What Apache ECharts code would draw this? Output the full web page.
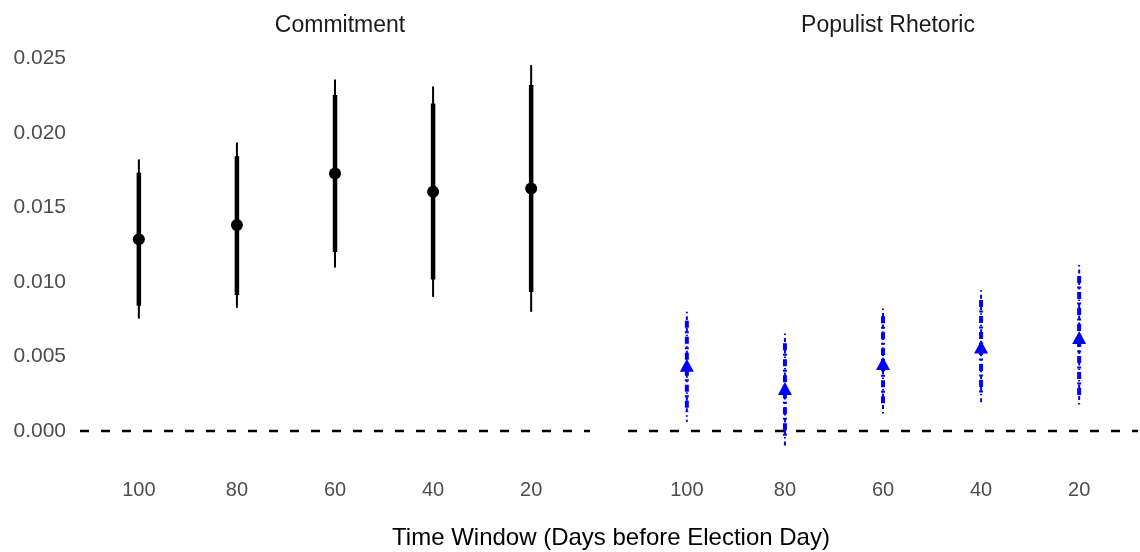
<!DOCTYPE html>
<html>
<head>
<meta charset="utf-8">
<script src="https://cdn.jsdelivr.net/npm/echarts@6/dist/echarts.min.js"></script>
<style>html,body{margin:0;padding:0;background:#fff}#c{width:1140px;height:552px}</style>
</head>
<body>
<div id="c"></div>
<script>
const categories = ['100', '80', '60', '40', '20'];
const panelTitles = ['Commitment', 'Populist Rhetoric'];
const yTicks = [0, 0.005, 0.010, 0.015, 0.020, 0.025];
const yTickLabels = ['0.000', '0.005', '0.010', '0.015', '0.020', '0.025'];

const commitEst  = [0.01287, 0.01381, 0.01727, 0.01604, 0.01626];
const commitLo95 = [0.00755, 0.00827, 0.01097, 0.00900, 0.00800];
const commitHi95 = [0.01821, 0.01935, 0.02357, 0.02310, 0.02453];
const commitLo90 = [0.00840, 0.00912, 0.01200, 0.01017, 0.00932];
const commitHi90 = [0.01731, 0.01843, 0.02252, 0.02196, 0.02319];

const popEst  = [0.00442, 0.00286, 0.00454, 0.00565, 0.00628];
const popLo95 = [0.00063, -0.00105, 0.00118, 0.00181, 0.00163];
const popHi95 = [0.00800, 0.00655, 0.00822, 0.00945, 0.01113];
const popLo90 = [0.00130, -0.00040, 0.00170, 0.00240, 0.00240];
const popHi90 = [0.00740, 0.00590, 0.00770, 0.00880, 0.01040];

const FONT = 'Liberation Sans, Arial, Helvetica, sans-serif';
const yMin = -0.00233, yMax = 0.02581;

function rangeData(lo, hi) { return categories.map((c, i) => [i + 1, lo[i], hi[i]]); }
function pointData(est) { return categories.map((c, i) => [i + 1, est[i]]); }

function rangeSeries(idx, lo, hi, color, width, dash) {
  return {
    type: 'custom', xAxisIndex: idx, yAxisIndex: idx, silent: true, z: 3,
    data: rangeData(lo, hi),
    renderItem: function (params, api) {
      const a = api.coord([api.value(0), api.value(2)]);
      const b = api.coord([api.value(0), api.value(1)]);
      return {
        type: 'line',
        shape: { x1: a[0], y1: a[1], x2: b[0], y2: b[1] },
        style: { stroke: color, lineWidth: width, lineDash: dash, lineCap: 'butt' }
      };
    }
  };
}

const grids = [
  { left: 80, width: 510, top: 46, height: 420 },
  { left: 628, width: 510, top: 46, height: 420 }
];

function xAxis(idx) {
  return {
    type: 'value', gridIndex: idx, min: 0.4, max: 5.6,
    axisLine: { show: false }, axisTick: { show: false }, splitLine: { show: false },
    axisLabel: {
      customValues: [1, 2, 3, 4, 5],
      formatter: v => categories[Math.round(v) - 1],
      color: '#4d4d4d', fontSize: 20, fontFamily: FONT, margin: 14
    }
  };
}
function yAxis(idx) {
  return {
    type: 'value', gridIndex: idx, min: yMin, max: yMax,
    axisLine: { show: false }, axisTick: { show: false }, splitLine: { show: false },
    axisLabel: {
      show: idx === 0,
      customValues: yTicks,
      formatter: v => yTickLabels[yTicks.findIndex(t => Math.abs(t - v) < 1e-9)],
      color: '#4d4d4d', fontSize: 21, fontFamily: FONT, margin: 14
    }
  };
}

function zeroLine() {
  return {
    silent: true, symbol: 'none', label: { show: false },
    lineStyle: { color: '#000', type: [9, 12], width: 2.4 },
    data: [{ yAxis: 0 }]
  };
}

const blueDashThin = [1.5, 3, 4, 3];
const blueDashThick = [7, 3.5, 2, 3.5];

const option = {
  animation: false,
  backgroundColor: '#fff',
  grid: grids,
  xAxis: [xAxis(0), xAxis(1)],
  yAxis: [yAxis(0), yAxis(1)],
  title: [
    { text: panelTitles[0], left: 335, top: 9, textAlign: 'center',
      textStyle: { fontSize: 23, fontWeight: 'normal', color: '#1a1a1a', fontFamily: FONT } },
    { text: panelTitles[1], left: 883, top: 9, textAlign: 'center',
      textStyle: { fontSize: 23, fontWeight: 'normal', color: '#1a1a1a', fontFamily: FONT } },
    { text: 'Time Window (Days before Election Day)', left: 606, top: 521, textAlign: 'center',
      textStyle: { fontSize: 24, fontWeight: 'normal', color: '#000', fontFamily: FONT } }
  ],
  series: [
    { type: 'line', xAxisIndex: 0, yAxisIndex: 0, data: [], markLine: zeroLine(), z: 1 },
    { type: 'line', xAxisIndex: 1, yAxisIndex: 1, data: [], markLine: zeroLine(), z: 1 },
    rangeSeries(0, commitLo95, commitHi95, '#000', 2, null),
    rangeSeries(0, commitLo90, commitHi90, '#000', 4.5, null),
    { type: 'scatter', xAxisIndex: 0, yAxisIndex: 0, symbol: 'circle', symbolSize: 12,
      itemStyle: { color: '#000', opacity: 1 }, data: pointData(commitEst), z: 5, silent: true },
    rangeSeries(1, popLo95, popHi95, '#0000ff', 2, blueDashThin),
    rangeSeries(1, popLo90, popHi90, '#0000ff', 4, blueDashThick),
    { type: 'scatter', xAxisIndex: 1, yAxisIndex: 1, symbol: 'triangle', symbolSize: [14, 13],
      itemStyle: { color: '#0000ff', opacity: 1 }, data: pointData(popEst), z: 5, silent: true }
  ]
};

const chart = echarts.init(document.getElementById('c'), null, { renderer: 'canvas' });
chart.setOption(option);
</script>
</body>
</html>
